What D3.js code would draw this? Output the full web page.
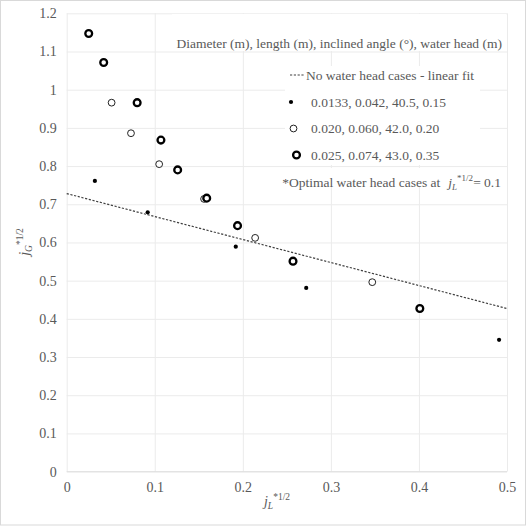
<!DOCTYPE html>
<html>
<head>
<meta charset="utf-8">
<script src="https://cdn.jsdelivr.net/npm/d3@7/dist/d3.min.js"></script>
<style>
  html, body { margin: 0; padding: 0; background: #fff; }
  svg { display: block; }
  svg text { font-family: 'Liberation Serif', 'Times New Roman', Times, 'DejaVu Serif', serif !important; fill: #595959; }
</style>
</head>
<body>
<script>
// ---- data ----
const xTicks = [0, 0.1, 0.2, 0.3, 0.4, 0.5];
const yTicks = [0, 0.1, 0.2, 0.3, 0.4, 0.5, 0.6, 0.7, 0.8, 0.9, 1, 1.1, 1.2];

const seriesNames = [
  "0.0133, 0.042, 40.5, 0.15",
  "0.020, 0.060, 42.0, 0.20",
  "0.025, 0.074, 43.0, 0.35"
];

// series 1: 0.0133 m diameter (small filled dots)
const s1x = [0.032, 0.092, 0.192, 0.272, 0.491];
const s1y = [0.761, 0.679, 0.589, 0.481, 0.345];

// series 2: 0.020 m diameter (thin open circles)
const s2x = [0.051, 0.073, 0.105, 0.156, 0.214, 0.347];
const s2y = [0.966, 0.886, 0.805, 0.714, 0.612, 0.496];

// series 3: 0.025 m diameter (thick open circles)
const s3x = [0.025, 0.042, 0.080, 0.107, 0.126, 0.159, 0.194, 0.257, 0.401];
const s3y = [1.147, 1.071, 0.966, 0.868, 0.790, 0.716, 0.644, 0.551, 0.427];

// linear fit of the no-water-head cases (end points)
const fitX = [0, 0.5];
const fitY = [0.728, 0.427];

const legendTitle = "Diameter (m), length (m), inclined angle (°), water head (m)";
const fitLabel = "No water head cases - linear fit";

// ---- layout ----
const FONT = "'Liberation Serif', 'Times New Roman', Times, 'DejaVu Serif', serif";
const W = 527, H = 526;
const svg = d3.select("body").append("svg").attr("width", W).attr("height", H)
  .attr("font-family", FONT);

svg.append("rect").attr("x", 0.5).attr("y", 0.5).attr("width", W - 2).attr("height", H - 1.5)
  .attr("fill", "#fff").attr("stroke", "#d9d9d9").attr("stroke-width", 1);

const x = d3.scaleLinear().domain([0, 0.5]).range([66.7, 507]);
const y = d3.scaleLinear().domain([0, 1.2]).range([471.6, 13.3]);

const fmt = d => String(+d.toFixed(1));

const yAxis = d3.axisLeft(y).tickValues(yTicks).tickFormat(fmt)
  .tickSize(-(x(0.5) - x(0))).tickPadding(10);
const gy = svg.append("g").attr("transform", `translate(${x(0)},0)`).call(yAxis)
  .attr("font-family", FONT).attr("font-size", 14);
gy.select(".domain").remove();
gy.selectAll(".tick line").attr("stroke", "#ebebeb").attr("stroke-width", 1);
gy.selectAll(".tick text").attr("fill", "#595959");

const xAxis = d3.axisBottom(x).tickValues(xTicks).tickFormat(fmt)
  .tickSize(-(y(0) - y(1.2))).tickPadding(10);
const gx = svg.append("g").attr("transform", `translate(0,${y(0)})`).call(xAxis)
  .attr("font-family", FONT).attr("font-size", 14);
gx.select(".domain").remove();
gx.selectAll(".tick line").attr("stroke", "#ebebeb").attr("stroke-width", 1);
gx.selectAll(".tick text").attr("fill", "#595959");

svg.append("line").attr("x1", x(0)).attr("x2", x(0.5)).attr("y1", y(0)).attr("y2", y(0))
  .attr("stroke", "#e0e0e0").attr("stroke-width", 1);

// ---- title text box (white background covering gridlines) ----
svg.append("rect").attr("x", 172).attr("y", 14).attr("width", 334).attr("height", 37).attr("fill", "#fff");
svg.append("text").attr("x", 502).attr("y", 48).attr("text-anchor", "end")
  .attr("font-size", 13.5).text(legendTitle);

// ---- legend ----
const legX = 289, textX = 311;
const rowY = [75, 102, 128.5, 155];
svg.append("rect").attr("x", legX - 4).attr("y", 66).attr("width", 480 - legX + 4).attr("height", 99).attr("fill", "#fff");

const lg = svg.append("g");
lg.append("line").attr("x1", legX + 1).attr("x2", legX + 15).attr("y1", rowY[0]).attr("y2", rowY[0])
  .attr("stroke", "#404040").attr("stroke-width", 1.2).attr("stroke-dasharray", "2.2,1.6");
lg.append("text").attr("x", 306).attr("y", rowY[0] + 4.5).attr("font-size", 13.5).text(fitLabel);

lg.append("circle").attr("cx", 291).attr("cy", rowY[1]).attr("r", 2.1).attr("fill", "#000");
lg.append("circle").attr("cx", 293.5).attr("cy", rowY[2]).attr("r", 3.4)
  .attr("fill", "#fff").attr("stroke", "#222").attr("stroke-width", 1);
lg.append("circle").attr("cx", 296.5).attr("cy", rowY[3]).attr("r", 3.4)
  .attr("fill", "#fff").attr("stroke", "#000").attr("stroke-width", 2.3);
seriesNames.forEach((n, i) => {
  lg.append("text").attr("x", textX).attr("y", rowY[i + 1] + 4.5).attr("font-size", 13.5).text(n);
});

// footnote
svg.append("rect").attr("x", 266).attr("y", 168).attr("width", 238).attr("height", 18).attr("fill", "#fff");
const fn = svg.append("text").attr("x", 501).attr("y", 186.5).attr("text-anchor", "end").attr("font-size", 13.5);
fn.append("tspan").text("*Optimal water head cases at");
fn.append("tspan").attr("font-style", "italic").attr("dx", 8).text("j");
fn.append("tspan").attr("font-style", "italic").attr("font-size", 9).attr("dy", 3).text("L");
fn.append("tspan").attr("font-size", 9).attr("dy", -9).text("*1/2");
fn.append("tspan").attr("dy", 6).text("= 0.1");

// ---- fit line ----
const line = d3.line().x(d => x(d[0])).y(d => y(d[1]));
svg.append("path").datum(fitX.map((v, i) => [v, fitY[i]]))
  .attr("d", line).attr("fill", "none").attr("stroke", "#404040")
  .attr("stroke-width", 1.2).attr("stroke-dasharray", "2.2,1.6");

// ---- points ----
const pts = svg.append("g");
pts.selectAll(".s2").data(s2x.map((v, i) => [v, s2y[i]])).join("circle")
  .attr("cx", d => x(d[0])).attr("cy", d => y(d[1])).attr("r", 3.4)
  .attr("fill", "#fff").attr("stroke", "#222").attr("stroke-width", 1);
pts.selectAll(".s3").data(s3x.map((v, i) => [v, s3y[i]])).join("circle")
  .attr("cx", d => x(d[0])).attr("cy", d => y(d[1])).attr("r", 3.4)
  .attr("fill", "#fff").attr("stroke", "#000").attr("stroke-width", 2.3);
pts.selectAll(".s1").data(s1x.map((v, i) => [v, s1y[i]])).join("circle")
  .attr("cx", d => x(d[0])).attr("cy", d => y(d[1])).attr("r", 2.1).attr("fill", "#000");

// ---- axis titles ----
const xt = svg.append("text").attr("x", 277).attr("y", 506).attr("text-anchor", "middle").attr("font-size", 14);
xt.append("tspan").attr("font-style", "italic").text("j");
xt.append("tspan").attr("font-style", "italic").attr("font-size", 9.5).attr("dy", 3).text("L");
xt.append("tspan").attr("font-size", 9.5).attr("dy", -9).text("*1/2");

const yt = svg.append("text").attr("transform", "translate(29,242) rotate(-90)")
  .attr("text-anchor", "middle").attr("font-size", 14);
yt.append("tspan").attr("font-style", "italic").text("j");
yt.append("tspan").attr("font-style", "italic").attr("font-size", 9.5).attr("dy", 3).text("G");
yt.append("tspan").attr("font-size", 9.5).attr("dy", -9).text("*1/2");
</script>
</body>
</html>
